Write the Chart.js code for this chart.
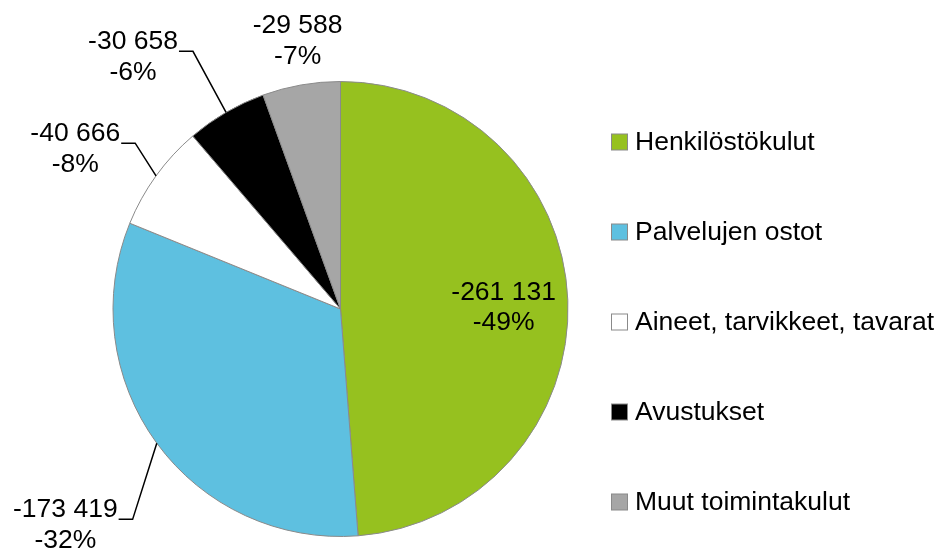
<!DOCTYPE html>
<html>
<head>
<meta charset="utf-8">
<script src="https://cdn.jsdelivr.net/npm/chart.js@4/dist/chart.umd.min.js"></script>
<style>
    html, body { margin: 0; padding: 0; background: #ffffff; }
    #wrap { width: 939px; height: 551px; position: relative; }
</style>
</head>
<body>
<div id="wrap"><canvas id="costChart"></canvas></div>
<script>
const categories = ['Henkilöstökulut', 'Palvelujen ostot', 'Aineet, tarvikkeet, tavarat', 'Avustukset', 'Muut toimintakulut'];
const amounts = [261131, 173419, 40666, 30658, 29588];
const valueLabels = ['-261 131', '-173 419', '-40 666', '-30 658', '-29 588'];
const percentLabels = ['-49%', '-32%', '-8%', '-6%', '-7%'];
const sliceColors = ['#96c11f', '#5ec0e0', '#ffffff', '#000000', '#a6a6a6'];

// where each data label sits, relative to its slice
const labelPlacement = [
    { mode: 'inside', angleShift: 1.8, r: 0.717 },
    { mode: 'leader', angleShift: -9.2, r: 1.30, tail: 14 },
    { mode: 'leader', angleShift: 3.1, r: 1.16, tail: 14 },
    { mode: 'leader', angleShift: 0.4, r: 1.305, tail: 14 },
    { mode: 'outside', angleShift: 0.85, r: 1.192 }
];

const FONT = '26.5px "Liberation Sans", Arial, sans-serif';
const LINE_GAP = 30.5;

const sliceLabels = {
    id: 'sliceLabels',
    afterDatasetsDraw(chart) {
        const ctx = chart.ctx;
        const arcs = chart.getDatasetMeta(0).data;
        ctx.save();
        ctx.font = FONT;
        ctx.fillStyle = '#000000';
        ctx.strokeStyle = '#000000';
        ctx.lineWidth = 1.5;
        arcs.forEach((arc, i) => {
            const p = arc.getProps(['x', 'y', 'startAngle', 'endAngle', 'outerRadius'], true);
            const mid = (p.startAngle + p.endAngle) / 2;
            const place = labelPlacement[i];
            const a = mid + place.angleShift * Math.PI / 180;
            const px = p.x + Math.cos(a) * p.outerRadius * place.r;
            const py = p.y + Math.sin(a) * p.outerRadius * place.r;
            const l1 = valueLabels[i];
            const l2 = percentLabels[i];
            if (place.mode === 'leader') {
                const sx = p.x + Math.cos(mid) * p.outerRadius;
                const sy = p.y + Math.sin(mid) * p.outerRadius;
                const ex = px - place.tail;
                ctx.beginPath();
                ctx.moveTo(sx, sy);
                ctx.lineTo(px, py);
                ctx.lineTo(ex, py);
                ctx.stroke();
                const w = Math.max(ctx.measureText(l1).width, ctx.measureText(l2).width);
                const cx = ex - 1 - w / 2;
                ctx.textAlign = 'center';
                ctx.textBaseline = 'alphabetic';
                ctx.fillText(l1, cx, py - 2);
                ctx.fillText(l2, cx, py - 2 + LINE_GAP);
            } else {
                ctx.textAlign = 'center';
                ctx.textBaseline = 'middle';
                ctx.fillText(l1, px, py - LINE_GAP / 2);
                ctx.fillText(l2, px, py + LINE_GAP / 2);
            }
        });
        ctx.restore();
    }
};

const sideLegend = {
    id: 'sideLegend',
    afterDraw(chart) {
        const ctx = chart.ctx;
        const ds = chart.data.datasets[0];
        ctx.save();
        ctx.font = FONT;
        ctx.textAlign = 'left';
        ctx.textBaseline = 'middle';
        chart.data.labels.forEach((label, i) => {
            const y = 142 + i * 90;
            ctx.fillStyle = ds.backgroundColor[i];
            ctx.fillRect(611.5, y - 8, 16, 16);
            ctx.strokeStyle = '#8a8a8a';
            ctx.lineWidth = 1;
            ctx.strokeRect(611.5, y - 8, 16, 16);
            ctx.fillStyle = '#000000';
            ctx.fillText(label, 635, y + 1);
        });
        ctx.restore();
    }
};

new Chart(document.getElementById('costChart').getContext('2d'), {
    type: 'pie',
    data: {
        labels: categories,
        datasets: [{
            data: amounts,
            backgroundColor: sliceColors,
            borderColor: '#8a8a8a',
            borderWidth: 1
        }]
    },
    options: {
        responsive: true,
        maintainAspectRatio: false,
        animation: false,
        layout: { padding: { top: 81, bottom: 14, left: 112, right: 370 } },
        plugins: {
            legend: { display: false },
            tooltip: { enabled: false }
        }
    },
    plugins: [sliceLabels, sideLegend]
});
</script>
</body>
</html>
